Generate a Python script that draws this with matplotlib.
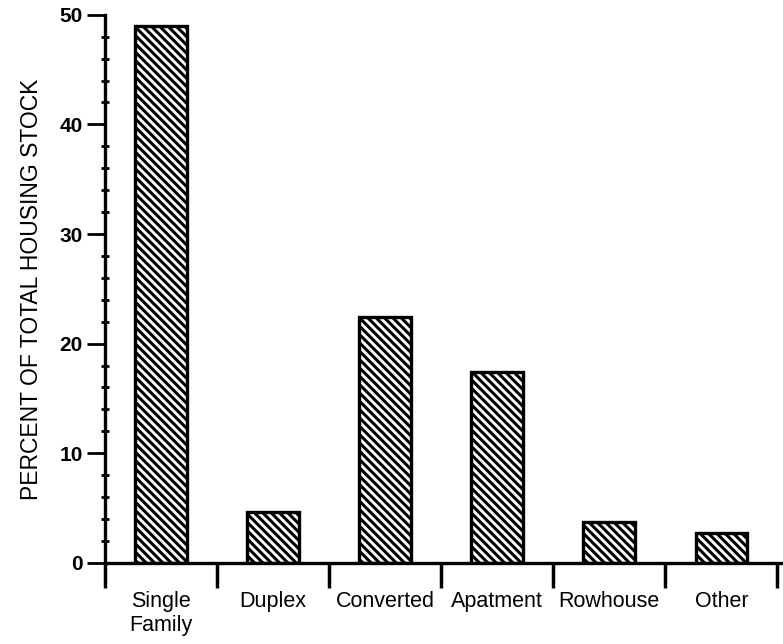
import numpy as np
import matplotlib
matplotlib.use('Agg')
import matplotlib.pyplot as plt

plt.rcParams['font.family'] = ['Liberation Sans', 'DejaVu Sans']
plt.rcParams['hatch.linewidth'] = 2.2

categories = ['Single\nFamily', 'Duplex', 'Converted', 'Apatment', 'Rowhouse', 'Other']
percent = [49.0, 4.6, 22.4, 17.4, 3.7, 2.7]

fig = plt.figure(figsize=(7.83, 6.44), dpi=100)
ax = fig.add_axes([0.134, 0.126, 0.866, 0.851])

x = np.arange(len(categories))
ax.bar(x, percent, width=0.46, color='white', edgecolor='black',
       linewidth=2.4, hatch='\\\\\\\\')

ax.set_xlim(-0.5, 5.55)
ax.set_ylim(0, 50)

# y ticks: majors every 10, minors every 2
ax.set_yticks(np.arange(0, 51, 10))
ax.set_yticks(np.arange(0, 51, 2), minor=True)
ax.tick_params(axis='y', which='major', direction='out', length=13, width=2,
               labelsize=15, pad=3)
ax.tick_params(axis='y', which='minor', direction='inout', length=6, width=2)
for lab in ax.get_yticklabels():
    lab.set_fontweight('bold')

# x ticks at the boundaries, labels under each bar
ax.set_xticks(np.arange(-0.5, 6, 1))
ax.set_xticklabels([])
ax.set_xticks(x, minor=True)
ax.set_xticklabels(categories, minor=True, fontsize=15.5, ha='center', va='top',
                   linespacing=1.2)
ax.tick_params(axis='x', which='major', direction='out', length=18, width=2.5)
ax.tick_params(axis='x', which='minor', length=0, pad=20)

ax.spines['top'].set_visible(False)
ax.spines['right'].set_visible(False)
ax.spines['left'].set_linewidth(2.4)
ax.spines['bottom'].set_linewidth(2.4)

ax.set_ylabel('PERCENT OF TOTAL HOUSING STOCK', fontsize=16.5, labelpad=12)

fig.savefig('out.png', dpi=100)
